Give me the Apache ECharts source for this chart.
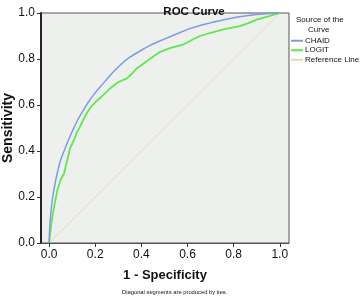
<!DOCTYPE html>
<html>
<head>
<meta charset="utf-8">
<script src="https://cdn.jsdelivr.net/npm/echarts@6/dist/echarts.min.js"></script>
<style>
  html, body { margin: 0; padding: 0; background: #fff; }
  #chart { width: 362px; height: 298px; }
</style>
</head>
<body>
<div id="chart"></div>
<script>
// ROC 曲线数据 (1 - specificity, sensitivity)
const chaidFpr = [0, 0.004, 0.014, 0.029, 0.05, 0.069, 0.085, 0.105, 0.125, 0.149, 0.17, 0.192, 0.235, 0.27, 0.31, 0.35, 0.40, 0.44, 0.48, 0.524, 0.58, 0.61, 0.654, 0.7, 0.753, 0.82, 0.9, 0.95, 1];
const chaidTpr = [0, 0.086, 0.187, 0.274, 0.361, 0.41, 0.45, 0.495, 0.537, 0.578, 0.612, 0.643, 0.694, 0.735, 0.775, 0.808, 0.838, 0.86, 0.878, 0.897, 0.92, 0.932, 0.946, 0.957, 0.97, 0.983, 0.993, 0.998, 1];
const logitFpr = [0, 0.01, 0.022, 0.036, 0.05, 0.065, 0.079, 0.091, 0.108, 0.12, 0.134, 0.155, 0.177, 0.2, 0.235, 0.264, 0.3, 0.336, 0.36, 0.38, 0.423, 0.45, 0.48, 0.524, 0.58, 0.61, 0.654, 0.697, 0.76, 0.827, 0.87, 0.9, 0.95, 1];
const logitTpr = [0, 0.086, 0.158, 0.23, 0.274, 0.303, 0.361, 0.412, 0.448, 0.48, 0.506, 0.55, 0.586, 0.612, 0.643, 0.672, 0.7, 0.715, 0.737, 0.759, 0.79, 0.81, 0.83, 0.847, 0.862, 0.878, 0.9, 0.913, 0.93, 0.943, 0.958, 0.971, 0.985, 1];
const refFpr = [0, 1];
const refTpr = [0, 1];
const tickValues = [0, 0.2, 0.4, 0.6, 0.8, 1.0];

const zip = (xs, ys) => xs.map((x, i) => [x, ys[i]]);
const font = 'Liberation Sans, Arial, sans-serif';

const chart = echarts.init(document.getElementById('chart'));

const option = {
  animation: false,
  textStyle: { fontFamily: font },
  title: {
    text: 'ROC Curve',
    left: 189,
    textAlign: 'center',
    top: 1,
    textStyle: { fontSize: 11.5, fontWeight: 'bold', color: '#111' },
  },
  grid: {
    left: 41,
    right: 73,
    top: 13,
    bottom: 55,
    outerBoundsMode: 'none',
    show: true,
    backgroundColor: '#eef0ee',
    borderColor: '#555',
    borderWidth: 1,
  },
  legend: {
    orient: 'vertical',
    left: 291,
    top: 36,
    padding: 0,
    itemWidth: 12,
    itemHeight: 2,
    itemGap: 0,
    icon: 'rect',
    data: ['CHAID', 'LOGIT', 'Reference Line'],
    textStyle: { fontSize: 8, lineHeight: 9.5, color: '#111', padding: [0, 0, 0, -3] },
  },
  graphic: [
    { type: 'text', left: 296, top: 16, style: { text: 'Source of the', fontSize: 8, fill: '#111', fontFamily: font } },
    { type: 'text', left: 308, top: 26, style: { text: 'Curve', fontSize: 8, fill: '#111', fontFamily: font } },
    { type: 'text', left: 122, top: 289, style: { text: 'Diagonal segments are produced by ties.', fontSize: 5.8, fill: '#111', fontFamily: font } },
  ],
  xAxis: {
    type: 'value',
    min: -0.035,
    max: 1.04,
    name: '1 - Specificity',
    nameLocation: 'middle',
    nameGap: 26,
    nameMoveOverlap: false,
    nameTextStyle: { fontSize: 13, fontWeight: 'bold', color: '#111' },
    axisLine: { show: true, onZero: false, lineStyle: { color: '#555', width: 1 } },
    axisTick: { show: true, customValues: tickValues, length: 4, lineStyle: { color: '#333' } },
    axisLabel: { customValues: tickValues, formatter: v => v.toFixed(1), fontSize: 12, color: '#111', margin: 6 },
    splitLine: { show: false },
  },
  yAxis: {
    type: 'value',
    min: 0,
    max: 1,
    interval: 0.2,
    name: 'Sensitivity',
    nameLocation: 'middle',
    nameGap: 26,
    nameMoveOverlap: false,
    nameTextStyle: { fontSize: 14, fontWeight: 'bold', color: '#111' },
    axisLine: { show: true, onZero: false, lineStyle: { color: '#222', width: 2 } },
    axisTick: { show: true, length: 4, lineStyle: { color: '#333' } },
    axisLabel: { formatter: v => v.toFixed(1), fontSize: 12, color: '#111', margin: 6 },
    splitLine: { show: false },
  },
  series: [
    {
      name: 'Reference Line',
      type: 'line',
      data: zip(refFpr, refTpr),
      symbol: 'none',
      color: '#e2dcae',
      lineStyle: { width: 1, color: '#e2dcae' },
    },
    {
      name: 'LOGIT',
      type: 'line',
      data: zip(logitFpr, logitTpr),
      symbol: 'none',
      color: '#5ee84c',
      lineStyle: { width: 1.8, color: '#5ee84c' },
    },
    {
      name: 'CHAID',
      type: 'line',
      data: zip(chaidFpr, chaidTpr),
      symbol: 'none',
      smooth: 0.15,
      color: '#7c9ce0',
      lineStyle: { width: 1.5, color: '#7c9ce0' },
    },
  ],
};

chart.setOption(option);
</script>
</body>
</html>
